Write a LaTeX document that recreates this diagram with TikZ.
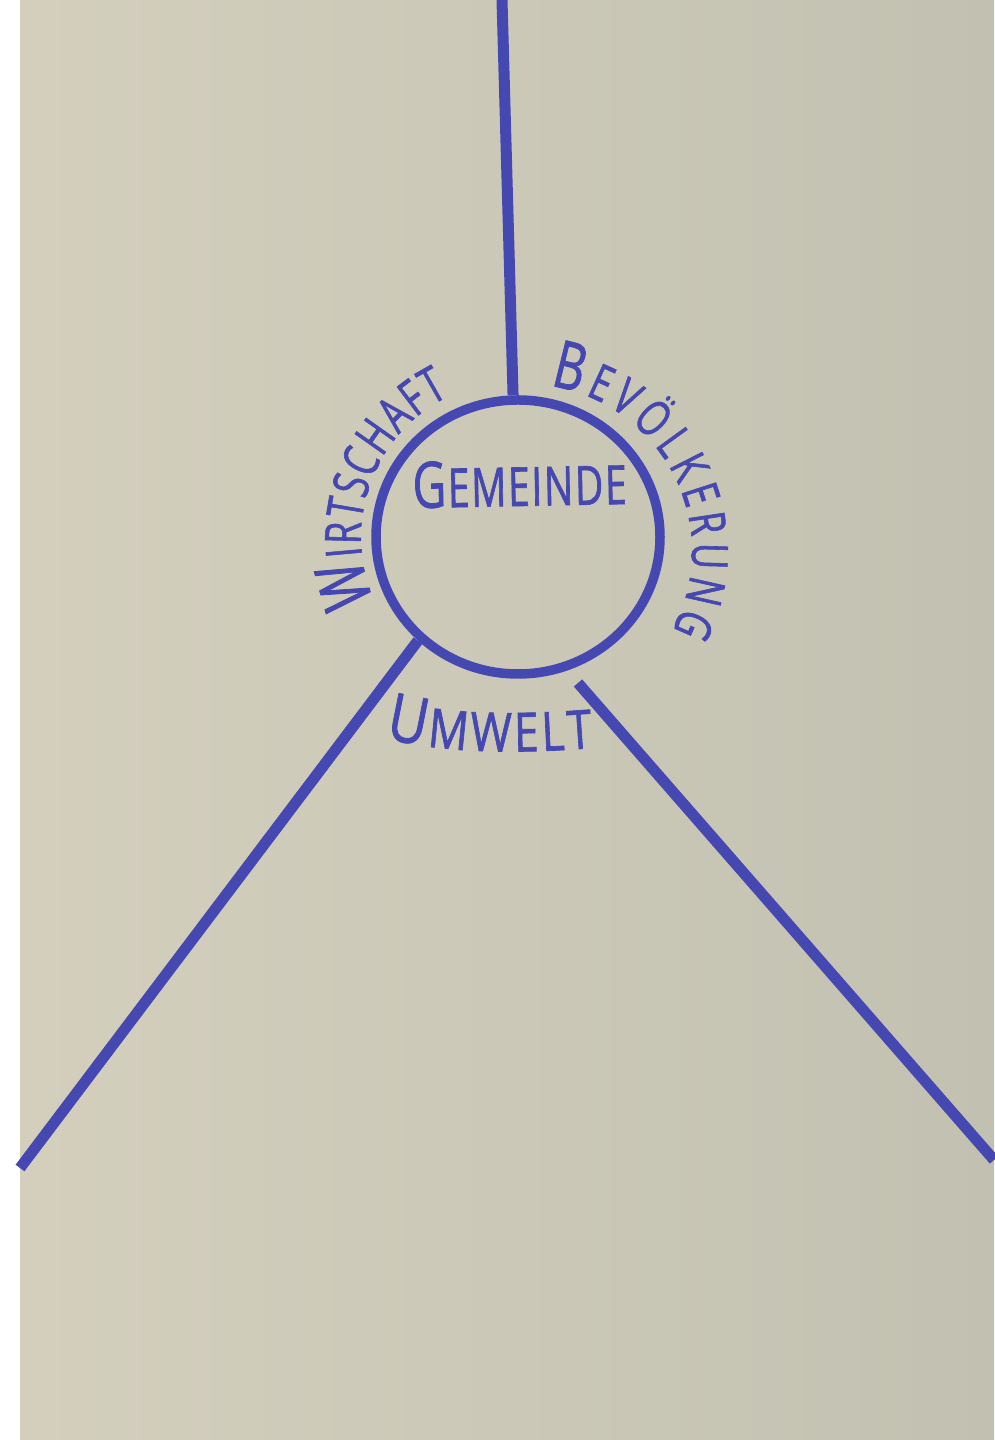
\documentclass[tikz,border=0pt]{standalone}
\usepackage{fontspec}
\usetikzlibrary{shapes.geometric,decorations.text}
\newfontfamily\handfont[FakeStretch=0.72,FakeBold=1.2]{Open Sans}
\newfontfamily\handwide[FakeStretch=0.82,FakeBold=1.2]{Open Sans}
\definecolor{ink}{RGB}{70,72,178}
\definecolor{paperL}{RGB}{212,207,189}
\definecolor{paperR}{RGB}{194,193,177}
\newcommand\fmtWbig{\handfont\fontsize{68}{68}\selectfont\color{ink}}
\newcommand\fmtWsmall{\handfont\fontsize{50}{50}\selectfont\color{ink}}
\newcommand\fmtBbig{\handfont\fontsize{66}{66}\selectfont\color{ink}}
\newcommand\fmtBsmall{\handfont\fontsize{50}{50}\selectfont\color{ink}}
\newcommand\fmtGbig{\handfont\fontsize{64}{64}\selectfont\color{ink}}
\newcommand\fmtGsmall{\handfont\fontsize{54}{54}\selectfont\color{ink}}
\newcommand\fmtUbig{\handwide\fontsize{66}{66}\selectfont\color{ink}}
\newcommand\fmtUsmall{\handwide\fontsize{54}{54}\selectfont\color{ink}}
\tikzset{
  marker/.style={draw=ink, line width=11pt},
  ring/.style={ellipse, draw=ink, line width=9.5pt, minimum width=284pt, minimum height=274pt, inner sep=0pt},
  curvedtext/.style={decorate, decoration={text along path, text align=fit to path, text={#1}}}
}
\begin{document}
\begin{tikzpicture}[x=1pt,y=1pt]
\useasboundingbox (0,0) rectangle (994,1440);
\fill[white] (0,0) rectangle (994,1440);
\fill[left color=paperL, right color=paperR] (20,0) rectangle (994,1440);

\node[ring] (gem) at (518,903) {};

\coordinate (ttop) at (502,1440);
\coordinate (lend) at (20,272);
\coordinate (rstart) at (578,757);
\coordinate (rend) at (994,280);
\coordinate (bc) at (525,889);

\draw[marker] (ttop) -- (gem.92);
\draw[marker] (gem.226) -- (lend);
\draw[marker] (rstart) -- (rend);

% GEMEINDE
\path[curvedtext={|\fmtGbig|G|\fmtGsmall|EMEINDE}] (413,932) -- (627,936);
% WIRTSCHAFT
\path[curvedtext={|\fmtWbig|W|\fmtWsmall|IRTSCHAFT}]
  ([shift={(204:157pt)}]gem.center) arc[start angle=204, end angle=116, radius=157pt];
% BEVOELKERUNG
\path[curvedtext={|\fmtBbig|B|\fmtBsmall|EVÖLKERUNG}]
  ([shift={(81.4:167pt)}]bc) arc[start angle=81.4, end angle=-28.3, radius=167pt];
% UMWELT
\path[curvedtext={|\fmtUbig|U|\fmtUsmall|MWELT}]
  (385,702) .. controls (450,685) and (530,687) .. (593,692);
\end{tikzpicture}
\end{document}
